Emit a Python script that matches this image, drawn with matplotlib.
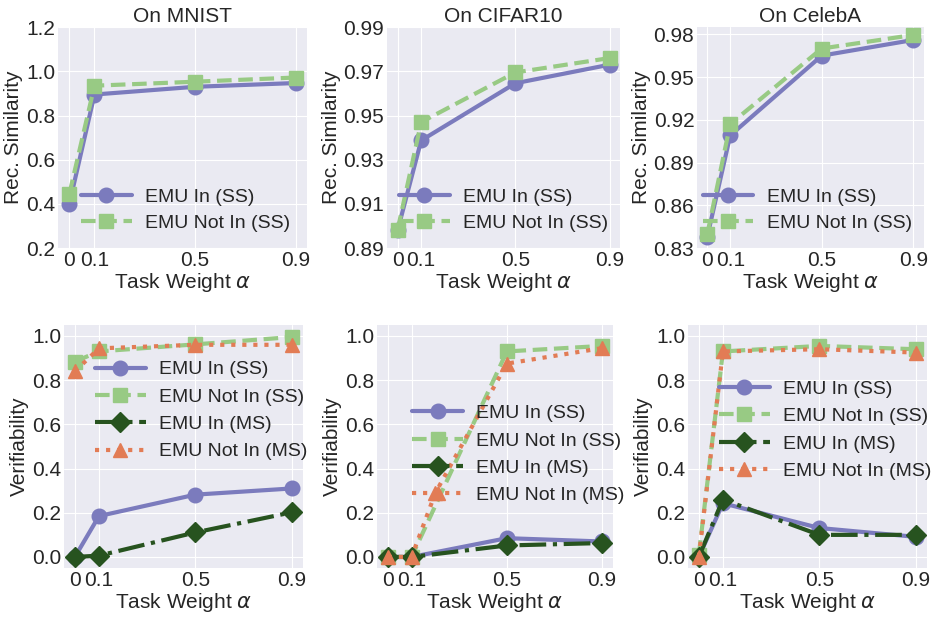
import matplotlib
matplotlib.use("Agg")
import matplotlib.pyplot as plt

plt.style.use('seaborn-v0_8-darkgrid')
plt.rcParams['font.family'] = ['Liberation Sans', 'DejaVu Sans']
plt.rcParams['mathtext.fontset'] = 'dejavusans'

alphas = [0, 0.1, 0.5, 0.9]
xtick_labels = ['0', '0.1', '0.5', '0.9']

# Rec. Similarity (top row)
mnist_rec_in = [0.40, 0.895, 0.930, 0.947]
mnist_rec_notin = [0.445, 0.935, 0.953, 0.972]
cifar_rec_in = [0.898, 0.9387, 0.9646, 0.9730]
cifar_rec_notin = [0.8983, 0.9470, 0.9695, 0.9760]
celeba_rec_in = [0.838, 0.909, 0.965, 0.976]
celeba_rec_notin = [0.840, 0.917, 0.970, 0.9795]

# Verifiability (bottom row)
mnist_ver_in_ss = [0.0, 0.185, 0.282, 0.310]
mnist_ver_notin_ss = [0.884, 0.930, 0.962, 0.995]
mnist_ver_in_ms = [0.0, 0.006, 0.111, 0.202]
mnist_ver_notin_ms = [0.840, 0.944, 0.960, 0.960]

cifar_ver_in_ss = [0.0, 0.0, 0.085, 0.070]
cifar_ver_notin_ss = [0.0, 0.0, 0.930, 0.955]
cifar_ver_in_ms = [0.0, 0.0, 0.052, 0.063]
cifar_ms_alphas = [0, 0.1, 0.2, 0.5, 0.9]
cifar_ver_notin_ms = [0.0, 0.0, 0.29, 0.875, 0.945]

celeba_ver_in_ss = [0.0, 0.243, 0.131, 0.091]
celeba_ver_notin_ss = [0.01, 0.930, 0.955, 0.940]
celeba_ver_in_ms = [0.0, 0.260, 0.100, 0.100]
celeba_ver_notin_ms = [0.0, 0.930, 0.940, 0.925]

titles = ['On MNIST', 'On CIFAR10', 'On CelebA']

C_IN = '#7b7bbd'
C_NOTIN = '#98ca84'
C_INMS = '#27531f'
C_NOTINMS = '#e27c55'

lw = 3
ms = 10.5
FS = 15
LFS = 14

fig = plt.figure(figsize=(9.36, 6.17), dpi=100)

top_pos = [[0.062, 0.598, 0.266, 0.358],
           [0.4135, 0.598, 0.249, 0.358],
           [0.7447, 0.598, 0.242, 0.358]]
bot_pos = [[0.0684, 0.0794, 0.255, 0.394],
           [0.4028, 0.0794, 0.252, 0.394],
           [0.735, 0.0794, 0.255, 0.394]]

rec_in = [mnist_rec_in, cifar_rec_in, celeba_rec_in]
rec_notin = [mnist_rec_notin, cifar_rec_notin, celeba_rec_notin]
ylims = [(0.2, 1.2), (0.89, 0.99), (0.83, 0.985)]
yticks = [[0.2, 0.4, 0.6, 0.8, 1.0, 1.2],
          [0.89, 0.91, 0.93, 0.95, 0.97, 0.99],
          [0.83, 0.86, 0.89, 0.92, 0.95, 0.98]]
ytick_fmt = ['{:.1f}', '{:.2f}', '{:.2f}']
top_leg = [(0.98, 0.02), (1.0, 0.02), (1.0, 0.02)]

for i in range(3):
    ax = fig.add_axes(top_pos[i])
    ax.plot(alphas, rec_in[i], color=C_IN, lw=lw, marker='o', ms=ms, label='EMU In (SS)')
    ax.plot(alphas, rec_notin[i], color=C_NOTIN, lw=lw, ls=(0, (3.5, 1.6)), marker='s', ms=ms,
            label='EMU Not In (SS)')
    ax.set_ylim(*ylims[i])
    ax.set_yticks(yticks[i])
    ax.set_yticklabels([ytick_fmt[i].format(v) for v in yticks[i]])
    ax.set_xticks(alphas)
    ax.set_xticklabels(xtick_labels)
    ax.tick_params(labelsize=FS, pad=2)
    ax.set_title(titles[i], fontsize=FS, pad=4)
    ax.set_xlabel(r'Task Weight $\alpha$', fontsize=FS, labelpad=1)
    ax.set_ylabel('Rec. Similarity', fontsize=FS, labelpad=2)
    ax.legend(loc='lower right', bbox_to_anchor=top_leg[i], fontsize=LFS,
              handlelength=2.6, borderaxespad=0.2, labelspacing=0.45, handletextpad=0.7)

ver = [
    [mnist_ver_in_ss, mnist_ver_notin_ss, mnist_ver_in_ms, mnist_ver_notin_ms],
    [cifar_ver_in_ss, cifar_ver_notin_ss, cifar_ver_in_ms, cifar_ver_notin_ms],
    [celeba_ver_in_ss, celeba_ver_notin_ss, celeba_ver_in_ms, celeba_ver_notin_ms],
]
ms_x = [alphas, cifar_ms_alphas, alphas]
bot_leg = [(1.07, 0.90), (1.10, 0.72), (1.07, 0.82)]

for i in range(3):
    ax = fig.add_axes(bot_pos[i])
    a, b, c, d = ver[i]
    ax.plot(alphas, a, color=C_IN, lw=lw, marker='o', ms=ms, label='EMU In (SS)')
    ax.plot(alphas, b, color=C_NOTIN, lw=lw, ls=(0, (3.5, 1.6)), marker='s', ms=ms,
            label='EMU Not In (SS)')
    ax.plot(alphas, c, color=C_INMS, lw=lw, ls='-.', marker='D', ms=ms, label='EMU In (MS)')
    ax.plot(ms_x[i], d, color=C_NOTINMS, lw=lw, ls=':', marker='^', ms=ms, label='EMU Not In (MS)')
    ax.set_ylim(-0.05, 1.05)
    ax.set_yticks([0.0, 0.2, 0.4, 0.6, 0.8, 1.0])
    ax.set_yticklabels(['0.0', '0.2', '0.4', '0.6', '0.8', '1.0'])
    ax.set_xticks(alphas)
    ax.set_xticklabels(xtick_labels)
    ax.tick_params(labelsize=FS, pad=2)
    ax.set_xlabel(r'Task Weight $\alpha$', fontsize=FS, labelpad=1)
    ax.set_ylabel('Verifiability', fontsize=FS, labelpad=2)
    ax.legend(loc='upper right', bbox_to_anchor=bot_leg[i], fontsize=LFS,
              handlelength=2.6, borderaxespad=0.2, labelspacing=0.5, handletextpad=0.7)

fig.savefig('out.png', dpi=100)
